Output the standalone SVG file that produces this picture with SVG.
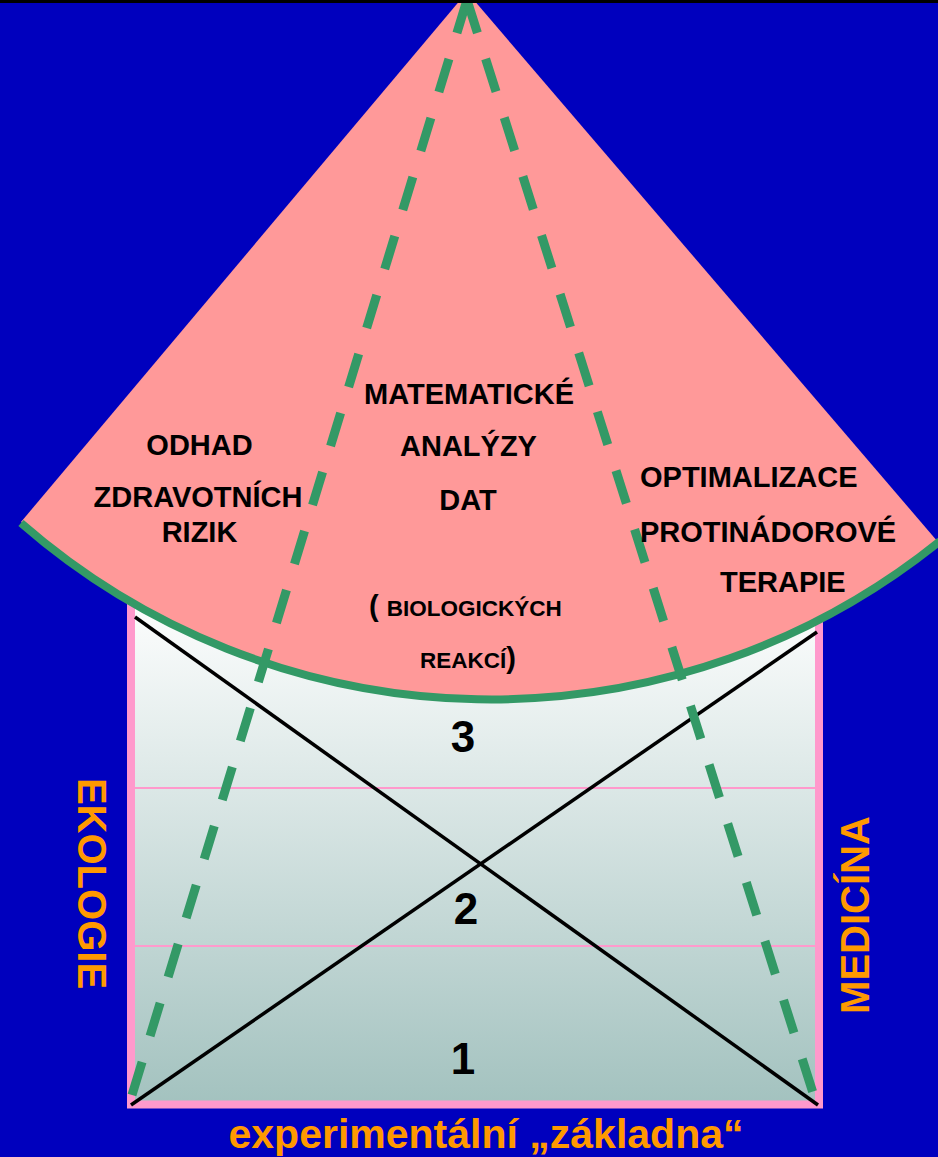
<svg xmlns="http://www.w3.org/2000/svg" width="938" height="1157" viewBox="0 0 938 1157">
  <style>
    .lbl { font-family: "Liberation Sans", Arial, sans-serif; font-weight: bold; fill: #000; text-anchor: middle; }
    .big { font-size: 29px; }
    .small { font-size: 22.5px; }
    .num { font-size: 44px; }
    .side { font-family: "Liberation Sans", Arial, sans-serif; font-weight: bold; fill: #ff9900; font-size: 40px; text-anchor: middle; }
    .xline { stroke: #000; stroke-width: 3.5; fill: none; }
    .dash { stroke: #339966; stroke-width: 9; fill: none; stroke-dasharray: 34.5 27.2; }
    .band { stroke: #ff99cc; stroke-width: 2; }
  </style>
  <defs>
    <linearGradient id="baseFill" x1="0" y1="0" x2="0" y2="1">
      <stop offset="0" stop-color="#ffffff"/>
      <stop offset="1" stop-color="#a3c2bf"/>
    </linearGradient>
  </defs>

  <!-- background -->
  <rect x="0" y="0" width="938" height="1157" fill="#0000be"/>

  <!-- experimental base: box with three levels -->
  <g id="base">
    <rect x="131" y="590" width="688" height="514.5" fill="url(#baseFill)" stroke="#ff99cc" stroke-width="8"/>
    <line class="band" x1="135" y1="788" x2="815" y2="788"/>
    <line class="band" x1="135" y1="946" x2="815" y2="946"/>
  </g>

  <!-- diagonal cross inside the base -->
  <g id="cross">
    <line class="xline" x1="135" y1="617" x2="818" y2="1105"/>
    <line class="xline" x1="131" y1="1105" x2="817" y2="632"/>
  </g>

  <!-- fan-shaped upper part -->
  <g id="fan">
    <path d="M467,-8 L21,522 A715,715 0 0 0 938,542 Z" fill="#ff9999"/>
    <path d="M21,523 A715,715 0 0 0 940,541" fill="none" stroke="#339966" stroke-width="8"/>
  </g>

  <!-- dashed connectors from the apex to the base corners -->
  <g id="connectors">
    <line class="dash" x1="467" y1="0" x2="132" y2="1095"/>
    <line class="dash" x1="467" y1="0" x2="813" y2="1093"/>
  </g>

  <rect x="0" y="0" width="938" height="3" fill="#000"/>

  <g id="node-odhad">
    <text class="lbl big" x="199.5" y="455">ODHAD</text>
    <text class="lbl big" x="198" y="507">ZDRAVOTNÍCH</text>
    <text class="lbl big" x="199.5" y="542">RIZIK</text>
  </g>

  <g id="node-analyzy">
    <text class="lbl big" x="469" y="404">MATEMATICKÉ</text>
    <text class="lbl big" x="468.5" y="456">ANALÝZY</text>
    <text class="lbl big" x="468" y="510">DAT</text>
    <text class="lbl" x="369" y="616" style="text-anchor:start"><tspan class="big">( </tspan><tspan class="small">BIOLOGICKÝCH</tspan></text>
    <text class="lbl" x="420" y="668" style="text-anchor:start"><tspan class="small">REAKCÍ</tspan><tspan class="big">)</tspan></text>
  </g>

  <g id="node-optimalizace">
    <text class="lbl big" x="640" y="487" style="text-anchor:start">OPTIMALIZACE</text>
    <text class="lbl big" x="640" y="542" style="text-anchor:start">PROTINÁDOROVÉ</text>
    <text class="lbl big" x="720" y="592" style="text-anchor:start">TERAPIE</text>
  </g>

  <g id="levels">
    <text class="lbl num" x="463" y="752">3</text>
    <text class="lbl num" x="466" y="924">2</text>
    <text class="lbl num" x="463" y="1074">1</text>
  </g>

  <g id="label-ekologie">
    <text class="side" transform="translate(78,883.5) rotate(90)">EKOLOGIE</text>
  </g>
  <g id="label-medicina">
    <text class="side" transform="translate(869,915) rotate(-90)">MEDICÍNA</text>
  </g>
  <g id="label-zakladna">
    <text class="side" style="font-size:41px" x="486" y="1148">experimentální „základna“</text>
  </g>
</svg>
